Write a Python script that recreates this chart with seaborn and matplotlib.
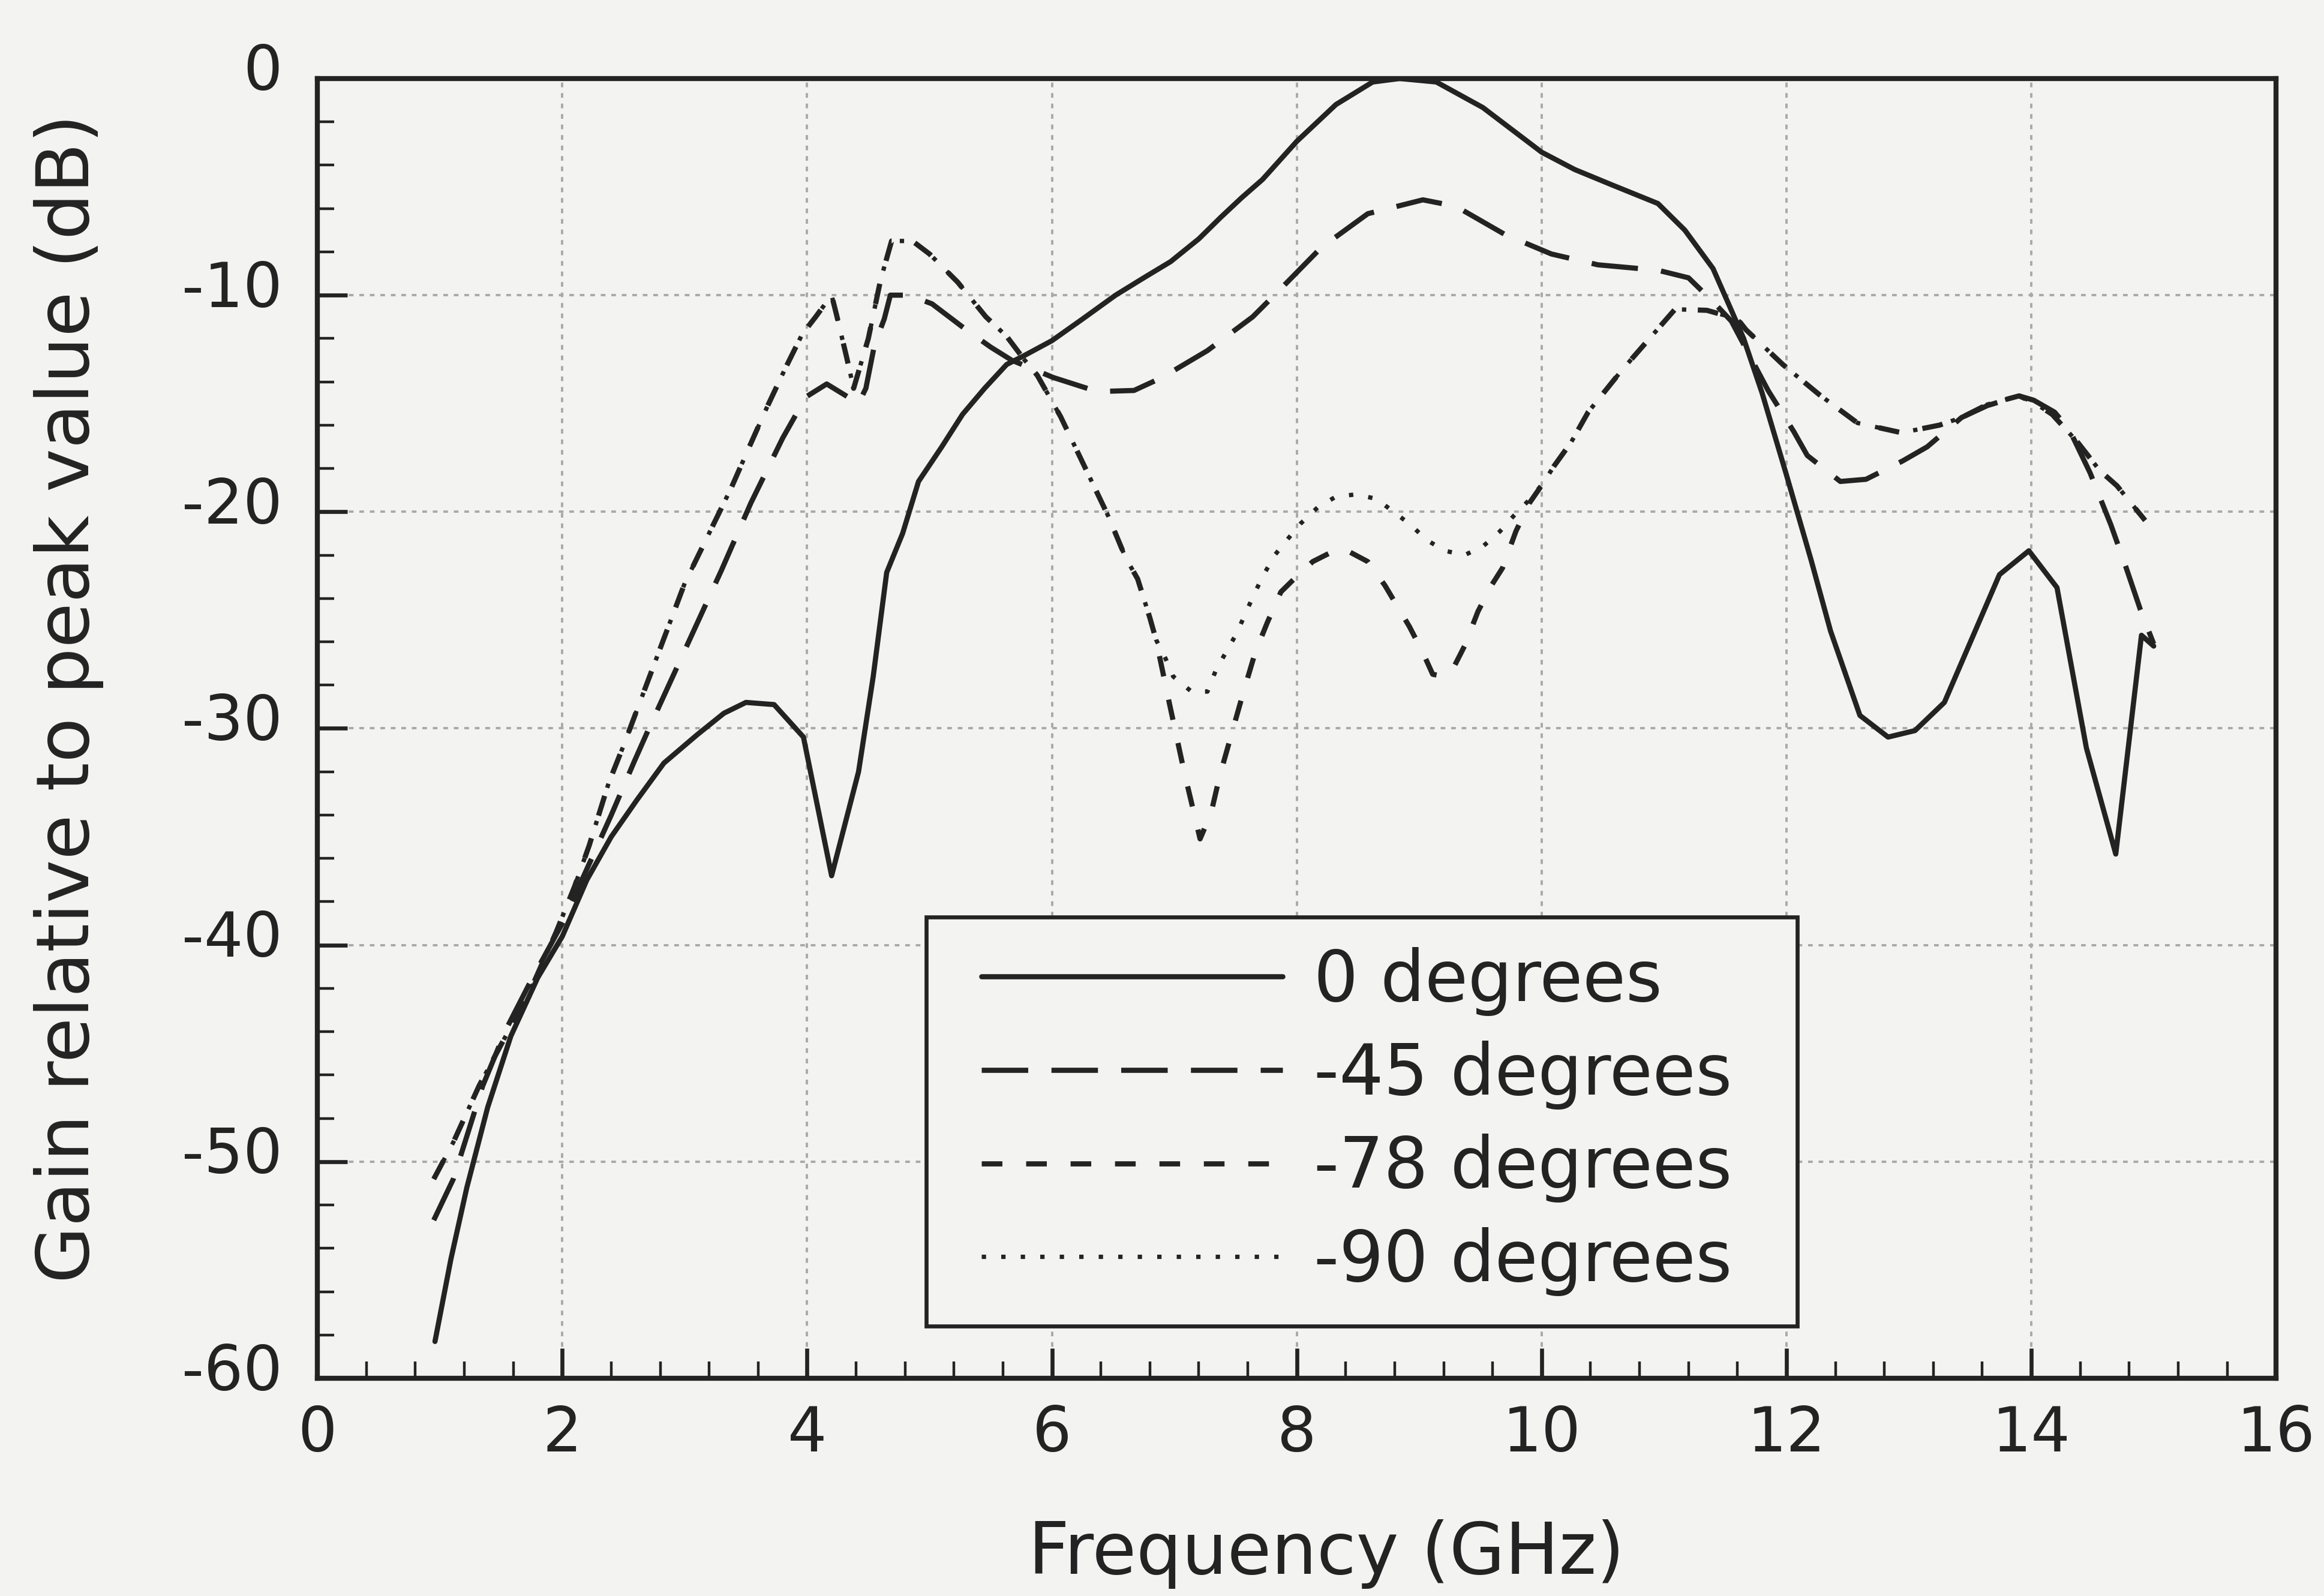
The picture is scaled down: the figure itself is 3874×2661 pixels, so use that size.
import matplotlib
matplotlib.use("Agg")
import matplotlib.pyplot as plt
from matplotlib.ticker import MultipleLocator
from matplotlib.path import Path
from matplotlib.transforms import ScaledTranslation
import seaborn as sns

# values (GHz, dB)
freq_0 = [0.96, 1.09, 1.22, 1.39, 1.58, 1.8, 2.0, 2.2, 2.4, 2.61, 2.83, 3.1, 3.32, 3.5,
          3.73, 3.97, 4.2, 4.42, 4.54, 4.65, 4.78, 4.91, 5.1, 5.27, 5.45, 5.63, 5.77,
          6.0, 6.25, 6.52, 6.75, 6.97, 7.2, 7.38, 7.55, 7.72, 8.0, 8.32, 8.62, 8.84,
          9.14, 9.52, 10.0, 10.27, 10.57, 10.95, 11.17, 11.4, 11.55, 11.65, 11.8, 12.0,
          12.2, 12.36, 12.6, 12.83, 13.05, 13.29, 13.74, 13.98, 14.21, 14.45, 14.69,
          14.9, 15.0]
gain_0 = [-58.3, -54.5, -51.2, -47.5, -44.2, -41.5, -39.6, -37.0, -35.0, -33.3, -31.6,
          -30.3, -29.3, -28.8, -28.9, -30.4, -36.8, -32.0, -27.6, -22.8, -21.0, -18.6,
          -17.0, -15.5, -14.3, -13.2, -12.8, -12.1, -11.1, -10.0, -9.2, -8.45, -7.4,
          -6.4, -5.5, -4.66, -2.9, -1.2, -0.16, 0.0, -0.16, -1.34, -3.4, -4.2, -4.9,
          -5.77, -7.0, -8.77, -10.7, -12.0, -14.5, -18.3, -22.2, -25.5, -29.4, -30.4,
          -30.1, -28.8, -22.9, -21.8, -23.5, -30.9, -35.8, -25.7, -26.2]

freq_45 = [0.95, 1.11, 1.35, 1.54, 1.73, 2.0, 2.2, 2.4, 2.59, 2.7, 3.0, 3.3, 3.54, 3.8,
           3.99, 4.16, 4.42, 4.48, 4.55, 4.63, 4.68, 4.83, 5.02, 5.3, 5.5, 5.67, 6.01,
           6.37, 6.67, 6.9, 7.27, 7.64, 7.87, 8.2, 8.58, 9.03, 9.3, 9.7, 10.08, 10.46,
           10.95, 11.2, 11.4, 11.55, 11.85, 12.06, 12.17, 12.44, 12.65, 12.95, 13.15,
           13.43, 13.64, 13.9, 14.02, 14.19, 14.31, 14.48, 14.65, 14.77, 14.89, 15.0]
gain_45 = [-52.7, -50.8, -46.5, -43.9, -41.8, -39.0, -36.5, -34.0, -31.5, -30.1, -26.4,
           -22.7, -19.6, -16.6, -14.7, -14.1, -15.0, -14.3, -12.3, -11.1, -10.0, -10.0,
           -10.4, -11.6, -12.4, -13.0, -13.8, -14.45, -14.4, -13.8, -12.56, -11.0, -9.7,
           -7.8, -6.24, -5.6, -5.9, -7.2, -8.1, -8.6, -8.85, -9.2, -10.3, -11.2, -14.4,
           -16.3, -17.4, -18.6, -18.5, -17.65, -17.0, -15.65, -15.1, -14.65, -14.85,
           -15.4, -16.2, -18.2, -20.6, -22.5, -24.5, -26.1]

freq_78 = [0.95, 1.11, 1.32, 1.5, 1.73, 1.95, 2.1, 2.22, 2.38, 2.5, 3.0, 3.38, 3.52,
           3.67, 3.82, 3.96, 4.07, 4.2, 4.24, 4.32, 4.38, 4.5, 4.6, 4.69, 4.86, 5.0,
           5.23, 5.46, 5.63, 5.77, 5.88, 6.07, 6.24, 6.46, 6.6, 6.7, 6.8, 6.85,
           6.95, 7.08, 7.21, 7.3, 7.37, 7.48, 7.56, 7.66, 7.76, 7.87, 7.96, 8.13, 8.27,
           8.38, 8.58, 8.72, 8.92, 9.03, 9.11, 9.2, 9.28, 9.37, 9.48, 9.59, 9.68, 9.79,
           9.9, 10.01, 10.1, 10.24, 10.38, 10.65, 11.09, 11.35, 11.6, 11.67, 11.97,
           12.27, 12.58, 12.94, 13.25, 13.43, 13.64, 13.9, 14.02, 14.17, 14.38, 14.56,
           14.7, 14.93]
gain_78 = [-50.8, -49.1, -46.5, -44.6, -42.2, -39.4, -37.3, -35.4, -32.5, -30.8, -23.3,
           -18.9, -17.1, -15.2, -13.4, -11.8, -11.0, -10.0, -10.9, -12.8, -14.3, -12.0,
           -9.3, -7.5, -7.5, -8.1, -9.4, -11.0, -11.9, -12.95, -13.7, -15.6, -17.6,
           -20.2, -22.1, -23.1, -24.9, -25.9,
           -28.6, -32.0, -35.1, -33.9, -32.2, -30.0, -28.4, -26.5, -25.1, -23.7, -23.2,
           -22.3, -21.9, -21.7, -22.3, -23.4, -25.3, -26.5, -27.5, -27.6, -27.2, -26.2,
           -24.6, -23.4, -22.6, -20.9, -19.6, -18.7, -17.9, -16.8, -15.4, -13.5, -10.65,
           -10.7, -11.1, -11.6, -13.2, -14.6, -15.9, -16.35, -16.0, -15.65, -15.05,
           -14.65, -14.95, -15.5, -16.8, -18.1, -18.8, -20.4]

freq_90 = [0.95, 1.11, 1.32, 1.5, 1.73, 1.95, 2.1, 2.22, 2.38, 2.5, 3.0, 3.38, 3.52,
           3.67, 3.82, 3.96, 4.07, 4.2, 4.24, 4.32, 4.38, 4.5, 4.6, 4.69, 4.86, 5.0,
           5.23, 5.46, 5.63, 5.77, 5.88, 6.07, 6.24, 6.46, 6.6, 6.7, 6.8, 6.85,
           6.93, 6.99, 7.14, 7.27, 7.34, 7.42, 7.51, 7.58, 7.66, 7.73, 7.82, 7.92, 8.03,
           8.17, 8.32, 8.48, 8.65, 8.79, 8.93, 9.06, 9.21, 9.37, 9.52, 9.66, 9.77, 9.89,
           10.01, 10.1, 10.24, 10.38, 10.65, 11.09, 11.35, 11.6, 11.67, 11.97,
           12.27, 12.58, 12.94, 13.25, 13.43, 13.64, 13.9, 14.02, 14.17, 14.38, 14.56,
           14.7, 14.93]
gain_90 = [-50.8, -49.1, -46.5, -44.6, -42.2, -39.4, -37.3, -35.4, -32.5, -30.8, -23.3,
           -18.9, -17.1, -15.2, -13.4, -11.8, -11.0, -10.0, -10.9, -12.8, -14.3, -12.0,
           -9.3, -7.5, -7.5, -8.1, -9.4, -11.0, -11.9, -12.95, -13.7, -15.6, -17.6,
           -20.2, -22.1, -23.1, -24.9, -25.9,
           -26.8, -27.6, -28.3, -28.3, -27.3, -26.5, -25.6, -24.7, -23.7, -22.9, -22.0,
           -21.3, -20.55, -19.8, -19.3, -19.2, -19.4, -20.0, -20.6, -21.3, -21.8, -22.0,
           -21.6, -20.9, -20.2, -19.5, -18.7, -17.9, -16.8, -15.4, -13.5, -10.65,
           -10.7, -11.1, -11.6, -13.2, -14.6, -15.9, -16.35, -16.0, -15.65, -15.05,
           -14.65, -14.95, -15.5, -16.8, -18.1, -18.8, -20.4]

labels = ['0 degrees', '-45 degrees', '-78 degrees', '-90 degrees']

sns.set_theme(style="ticks")
plt.rcParams['font.family'] = ['DejaVu Sans']
plt.rcParams['axes.unicode_minus'] = False

bg = '#f3f3f1'
ink = '#232323'

fig = plt.figure(figsize=(19.37, 13.305), dpi=200, facecolor=bg)
ax = fig.add_axes([0.1366, 0.1364, 0.8428, 0.8144])
ax.set_facecolor(bg)

series = [(freq_0, gain_0, 3.1, '-'),
          (freq_45, gain_45, 3.1, (0, (9, 4.5))),
          (freq_78, gain_78, 3.1, (0, (4, 4.6))),
          (freq_90, gain_90, 2.6, (0, (1, 3.5)))]
for (f, g, lw, ls), lab in zip(series, labels):
    sns.lineplot(x=f, y=g, ax=ax, color=ink, linewidth=lw, linestyle=ls,
                 label=lab, estimator=None, sort=False, legend=False)

ax.set_xlim(0, 16)
ax.set_ylim(-60, 0)
ax.xaxis.set_major_locator(MultipleLocator(2))
ax.xaxis.set_minor_locator(MultipleLocator(0.4))
ax.yaxis.set_major_locator(MultipleLocator(10))
ax.yaxis.set_minor_locator(MultipleLocator(2))

ax.grid(True, which='major', color='#a9a9a9', lw=1.4, ls=(0, (2, 2.5)))
ax.tick_params(which='both', direction='in', top=False, right=False, colors=ink)
ax.tick_params(which='major', length=18, width=2.4, labelsize=37)
ax.tick_params(which='minor', length=10, width=1.6)
ax.tick_params(axis='x', which='major', pad=15.5)
ax.tick_params(axis='y', which='major', pad=21)
for s in ax.spines.values():
    s.set_linewidth(3.0)
    s.set_color(ink)

# y tick labels sit a little above their ticks in the print
lift = ScaledTranslation(0, 0.1, fig.dpi_scale_trans)
for lab in ax.get_yticklabels():
    lab.set_transform(lab.get_transform() + lift)

ax.set_xlabel('Frequency (GHz)', fontsize=43, color=ink, va='center')
ax.xaxis.set_label_coords(0.515, -0.135)
ax.set_ylabel('Gain relative to peak value (dB)', fontsize=44, color=ink,
              va='center', ha='center')
ax.yaxis.set_label_coords(-0.127, 0.523)

leg = ax.legend(loc='lower left', bbox_to_anchor=(0.3237, 0.040), borderaxespad=0,
                fontsize=42, frameon=True, fancybox=False, framealpha=1,
                facecolor=bg, edgecolor=ink, handlelength=4.3, handletextpad=0.45,
                borderpad=0.43, labelspacing=0.35)


# the printed legend box has more room left and right than above and below
def wide_box(x0, y0, width, height, mutation_size):
    left = 0.36 * mutation_size
    right = 0.5 * mutation_size
    x1 = x0 + width + right
    x0 = x0 - left
    y1 = y0 + height
    return Path([(x0, y0), (x1, y0), (x1, y1), (x0, y1), (x0, y0)], closed=True)


leg.get_frame().set_boxstyle(wide_box)
leg.get_frame().set_linewidth(2.4)
for t in leg.get_texts():
    t.set_color(ink)

fig.savefig('out.png', dpi=200, facecolor=bg)
